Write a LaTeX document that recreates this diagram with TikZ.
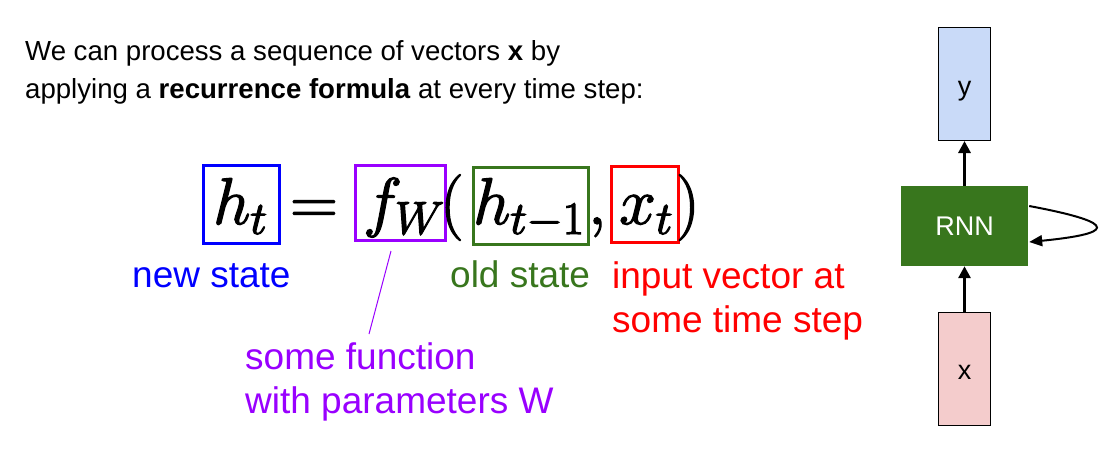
\RequirePackage{fix-cm}
\documentclass[tikz,border=0pt]{standalone}
\usepackage[no-math]{fontspec}
\setmainfont{Liberation Sans}
\usetikzlibrary{arrows.meta,calc}
\definecolor{cblue}{HTML}{0000FF}
\definecolor{cpurple}{HTML}{9900FF}
\definecolor{cgreen}{HTML}{38761D}
\definecolor{cred}{HTML}{FF0000}
\definecolor{ylight}{HTML}{C9DAF8}
\definecolor{xlight}{HTML}{F4CCCC}
\newcommand{\heavymath}[1]{\special{pdf:literal direct 2 Tr 1.3 w}#1\special{pdf:literal direct 0 Tr}}
\begin{document}
\begin{tikzpicture}[x=1pt,y=-1pt,
  eqbox/.style={draw, line width=3pt, inner sep=0pt},
  eq/.style={inner sep=0pt, anchor=base west, font=\fontsize{66}{70}\selectfont},
  intro/.style={inner sep=0pt, anchor=base west, font=\fontsize{27.6}{38}\selectfont},
  lbl/.style={inner sep=0pt, anchor=base west, font=\fontsize{37}{44}\selectfont},
  vec/.style={draw=black, line width=1pt, minimum width=52pt, minimum height=113pt, inner sep=0pt, font=\fontsize{27}{30}\selectfont},
  uparrow/.style={line width=3pt, -{Triangle[length=12pt,width=12pt]}}
]
\useasboundingbox (0,0) rectangle (1108,455);

% intro text
\node[intro] (t1) at (25,60) {We can process a sequence of vectors \textbf{x} by};
\node[intro] (t2) at (25,98) {applying a \textbf{recurrence formula} at every time step:};

% boxes
\node[eqbox, draw=cblue, minimum width=76pt, minimum height=78pt] (bh) at (241.5,204.5) {};
\node[eqbox, draw=cpurple, minimum width=90pt, minimum height=75pt] (bf) at (400.5,203) {};
\node[eqbox, draw=cgreen, minimum width=115pt, minimum height=77pt] (bo) at (531,206) {};
\node[eqbox, draw=cred, minimum width=67pt, minimum height=76pt] (bx) at (645,204.5) {};

% equation pieces
\node[eq] (m1) at (213,224) {\heavymath{$h_t$}};
\node[eq] (m2) at (290,224) {\heavymath{$=$}};
\node[eq] (m3) at (363,224) {\heavymath{$f_W$}};
\node[eq] (m4) at (440,224) {\heavymath{$($}};
\node[eq] (m5) at (473,224) {\heavymath{$h_{t-1}$}};
\node[eq] (m6) at (588,224) {\heavymath{$,$}};
\node[eq] (m7) at (619,224) {\heavymath{$x_t$}};
\node[eq] (m8) at (676,224) {\heavymath{$)$}};

% labels
\node[lbl, text=cblue] (lnew) at (132,287) {new state};
\node[lbl, text=cgreen] (lold) at (450,287) {old state};
\node[lbl, text=cred] (lin1) at (612,288) {input vector at};
\node[lbl, text=cred] (lin2) at (612,332) {some time step};
\node[lbl, text=cpurple] (lf1) at (245,369) {some function};
\node[lbl, text=cpurple] (lf2) at (245,413) {with parameters W};

\coordinate (ls) at (391,251);
\coordinate (le) at (369,334);
\draw[cpurple, line width=1pt] (ls) -- (le);

% RNN diagram
\node[vec, fill=ylight, text depth=0pt, text height=22pt] (ybox) at (964.5,84) {y};
\node[fill=cgreen, minimum width=127pt, minimum height=80pt, inner sep=0pt, text=white, font=\fontsize{27}{30}\selectfont] (rnn) at (964.5,226) {RNN};
\node[vec, fill=xlight, text depth=0pt, text height=20.6pt] (xbox) at (964.5,369) {x};

\draw[uparrow] (rnn.north) -- (ybox.south);
\draw[uparrow] (xbox.north) -- (rnn.south);
\coordinate (lp1) at ($(rnn.east)+(1,-20)$);
\coordinate (lp2) at ($(rnn.east)+(1,16)$);
\draw[line width=2pt, -{Triangle[length=13pt,width=11pt]}] (lp1) .. controls (1125,224) and (1110,234) .. (lp2);
\end{tikzpicture}
\end{document}
